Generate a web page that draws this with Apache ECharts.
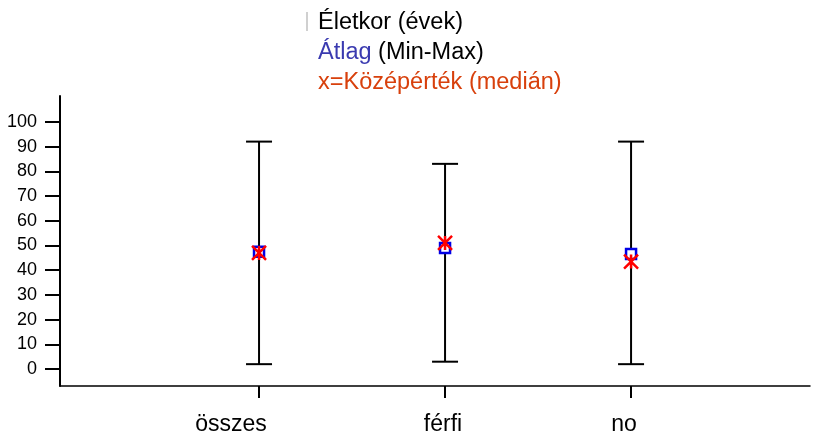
<!DOCTYPE html>
<html>
<head>
<meta charset="utf-8">
<script src="https://cdn.jsdelivr.net/npm/echarts@6/dist/echarts.min.js"></script>
<style>
html,body{margin:0;padding:0;background:#fff;}
#c{width:813px;height:436px;}
</style>
</head>
<body>
<div id="c"></div>
<script>
const categories = ['összes', 'férfi', 'no'];
const catPos = [1, 2, 3];
const minValues = [2, 3, 2];
const maxValues = [92, 83, 92];
const meanValues = [47.5, 49, 46.5];
const medianValues = [47, 51, 43.5];
const yTicks = [0, 10, 20, 30, 40, 50, 60, 70, 80, 90, 100];

const FONT = '"Liberation Sans", Arial, sans-serif';

const whiskerData = catPos.map((p, i) => [p, minValues[i], maxValues[i]]);
const meanData = catPos.map((p, i) => [p, meanValues[i]]);
const medianData = catPos.map((p, i) => [p, medianValues[i]]);

const chart = echarts.init(document.getElementById('c'), null, {renderer: 'canvas'});
chart.setOption({
  animation: false,
  backgroundColor: '#fff',
  title: {
    left: 313, top: 3,
    text: '{k|Életkor (évek)}\n{b|Átlag}{k| (Min-Max)}\n{r|x=Középérték (medián)}',
    textStyle: {
      fontFamily: FONT, fontSize: 23.5, fontWeight: 'normal', lineHeight: 30,
      rich: {
        k: {color: '#000', fontFamily: FONT, fontSize: 23.5, lineHeight: 30},
        b: {color: '#3a3ab0', fontFamily: FONT, fontSize: 23.5, lineHeight: 30},
        r: {color: '#d8400c', fontFamily: FONT, fontSize: 23.5, lineHeight: 30}
      }
    }
  },
  graphic: [{
    type: 'rect', left: 306, top: 12, shape: {width: 2, height: 19},
    style: {fill: '#d0d0d0'}, silent: true
  }],
  grid: {left: 60, right: 3, top: 96, bottom: 48},
  xAxis: {
    type: 'value',
    min: -0.07, max: 3.962,
    splitLine: {show: false},
    axisLine: {show: true, onZero: false, lineStyle: {color: '#000', width: 1.5}},
    axisTick: {show: true, customValues: catPos, length: 12, inside: false, lineStyle: {color: '#000', width: 2}},
    axisLabel: {
      show: true, customValues: catPos, margin: 27,
      fontFamily: FONT, fontSize: 23, color: '#000',
      formatter: v => {
        const i = Math.round(v) - 1;
        const name = categories[i] || '';
        return '{l' + i + '|' + name + '}';
      },
      rich: {
        l0: {fontFamily: FONT, fontSize: 23, color: '#000', padding: [0, 56, 0, 0]},
        l1: {fontFamily: FONT, fontSize: 23, color: '#000', padding: [0, 4, 0, 0]},
        l2: {fontFamily: FONT, fontSize: 23, color: '#000', padding: [0, 14, 0, 0]}
      }
    }
  },
  yAxis: {
    type: 'value',
    min: -6.83, max: 110.44,
    splitLine: {show: false},
    axisLine: {show: true, onZero: false, lineStyle: {color: '#000', width: 2}},
    axisTick: {show: true, customValues: yTicks, length: 15, inside: false, lineStyle: {color: '#000', width: 2}},
    axisLabel: {
      show: true, customValues: yTicks, margin: 23,
      fontFamily: FONT, fontSize: 18, color: '#000'
    }
  },
  series: [
    {
      type: 'custom',
      data: whiskerData,
      z: 2,
      renderItem: function (params, api) {
        const x = api.value(0), lo = api.value(1), hi = api.value(2);
        const pLo = api.coord([x, lo]);
        const pHi = api.coord([x, hi]);
        const hw = 13;
        const st = {stroke: '#000', lineWidth: 2};
        return {
          type: 'group',
          children: [
            {type: 'line', shape: {x1: pLo[0], y1: pLo[1], x2: pHi[0], y2: pHi[1]}, style: st},
            {type: 'line', shape: {x1: pHi[0] - hw, y1: pHi[1], x2: pHi[0] + hw, y2: pHi[1]}, style: st},
            {type: 'line', shape: {x1: pLo[0] - hw, y1: pLo[1], x2: pLo[0] + hw, y2: pLo[1]}, style: st}
          ]
        };
      }
    },
    {
      type: 'scatter',
      data: meanData,
      z: 3,
      symbol: 'rect',
      symbolSize: 10,
      itemStyle: {color: '#ffffff', borderColor: '#0000e6', borderWidth: 2.5, opacity: 1}
    },
    {
      type: 'scatter',
      data: medianData,
      z: 4,
      symbol: 'path://M0 0 L10 10 M10 0 L0 10 M5 0 L5 10',
      symbolSize: 14,
      itemStyle: {color: 'none', borderColor: '#ff0000', borderWidth: 2.5, opacity: 1}
    }
  ]
});
</script>
</body>
</html>
